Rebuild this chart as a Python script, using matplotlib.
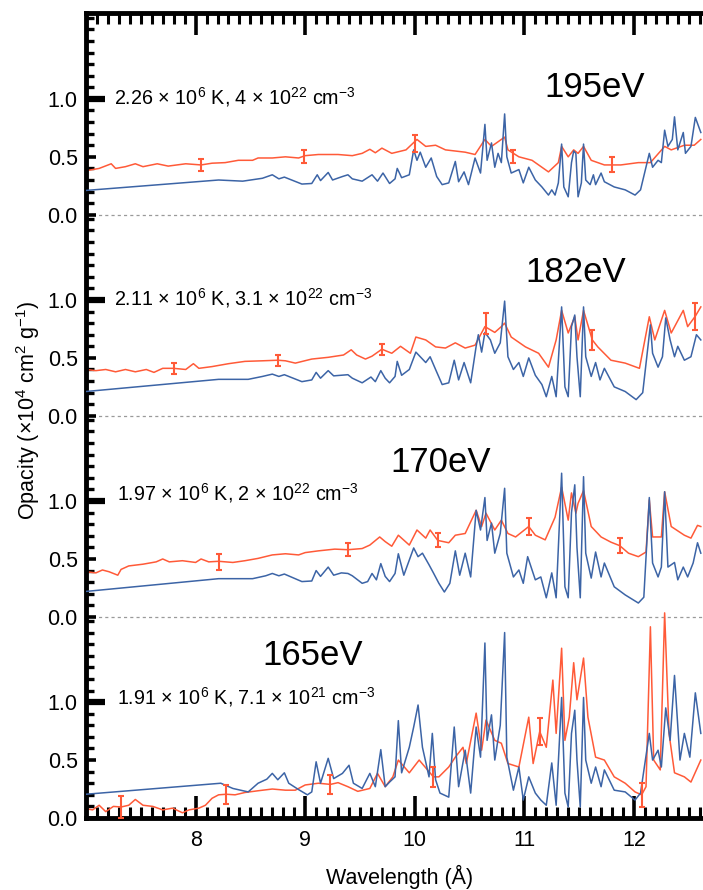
import matplotlib
matplotlib.use("Agg")
import matplotlib.pyplot as plt
from matplotlib import font_manager

# ---- measured opacity (red) and calculated opacity (blue), one block per panel ----
# 195 eV
blue195_wl = [7.00, 8.21, 8.43, 8.61, 8.70, 8.76, 8.81, 8.97, 9.06, 9.11, 9.14, 9.21, 9.25, 9.34, 9.39, 9.43,
              9.52, 9.61, 9.66, 9.71, 9.77, 9.82, 9.84, 9.88, 9.95, 9.99, 10.02, 10.05, 10.10, 10.15, 10.20,
              10.25, 10.31, 10.37, 10.40, 10.45, 10.49, 10.55, 10.60, 10.64, 10.66, 10.70, 10.73, 10.76, 10.79,
              10.82, 10.84, 10.88, 10.95, 10.99, 11.04, 11.10, 11.16, 11.22, 11.25, 11.28, 11.31, 11.34, 11.36,
              11.40, 11.43, 11.45, 11.47, 11.49, 11.52, 11.54, 11.56, 11.60, 11.63, 11.65, 11.70, 11.73, 11.82,
              11.92, 12.01, 12.06, 12.14, 12.17, 12.22, 12.25, 12.28, 12.31, 12.35, 12.37, 12.40, 12.45, 12.47,
              12.52, 12.56, 12.61]
blue195_op = [0.21, 0.30, 0.29, 0.315, 0.345, 0.31, 0.325, 0.265, 0.27, 0.345, 0.295, 0.365, 0.30, 0.33, 0.345, 0.31,
              0.29, 0.345, 0.29, 0.36, 0.27, 0.31, 0.40, 0.32, 0.345, 0.56, 0.47, 0.54, 0.41, 0.49, 0.33,
              0.26, 0.275, 0.46, 0.285, 0.37, 0.26, 0.49, 0.36, 0.78, 0.47, 0.62, 0.41, 0.53, 0.45,
              0.87, 0.50, 0.36, 0.39, 0.275, 0.41, 0.30, 0.24, 0.17, 0.215, 0.17, 0.275, 0.61, 0.24,
              0.155, 0.45, 0.55, 0.53, 0.155, 0.275, 0.61, 0.30, 0.26, 0.345, 0.26, 0.36, 0.285, 0.24,
              0.215, 0.17, 0.215, 0.53, 0.41, 0.47, 0.45, 0.73, 0.59, 0.65, 0.845, 0.56, 0.71, 0.53,
              0.59, 0.84, 0.71]
red195_wl = [7.00, 7.12, 7.23, 7.27, 7.36, 7.45, 7.52, 7.65, 7.75, 7.91, 8.05, 8.15, 8.27, 8.39, 8.52, 8.57,
             8.70, 8.82, 8.94, 9.00, 9.12, 9.30, 9.43, 9.52, 9.59, 9.64, 9.70, 9.79, 9.92, 10.02, 10.10,
             10.19, 10.28, 10.46, 10.55, 10.64, 10.70, 10.82, 10.85, 10.95, 11.07, 11.22, 11.31, 11.34, 11.40,
             11.45, 11.49, 11.54, 11.61, 11.73, 11.88, 12.04, 12.15, 12.28, 12.34, 12.46, 12.55, 12.61]
red195_op = [0.38, 0.40, 0.44, 0.40, 0.415, 0.44, 0.415, 0.44, 0.42, 0.44, 0.43, 0.445, 0.45, 0.47, 0.47, 0.49,
             0.49, 0.50, 0.49, 0.51, 0.52, 0.52, 0.51, 0.53, 0.565, 0.535, 0.575, 0.53, 0.56, 0.65, 0.59,
             0.60, 0.56, 0.54, 0.52, 0.65, 0.59, 0.67, 0.56, 0.50, 0.47, 0.37, 0.45, 0.59, 0.50,
             0.56, 0.53, 0.59, 0.47, 0.43, 0.43, 0.45, 0.45, 0.59, 0.56, 0.60, 0.60, 0.65]
err195_wl = [8.05, 8.99, 10.00, 10.90, 11.80]
err195_op = [0.43, 0.50, 0.615, 0.505, 0.435]
err195_sd = [0.05, 0.055, 0.075, 0.055, 0.065]

# 182 eV
blue182_wl = [7.00, 8.21, 8.48, 8.61, 8.70, 8.76, 8.81, 8.97, 9.06, 9.10, 9.14, 9.21, 9.26, 9.39, 9.43, 9.52,
              9.60, 9.64, 9.69, 9.73, 9.77, 9.82, 9.84, 9.88, 9.95, 10.01, 10.05, 10.10, 10.14, 10.19, 10.25,
              10.31, 10.36, 10.40, 10.45, 10.51, 10.56, 10.58, 10.61, 10.64, 10.69, 10.73, 10.78, 10.82, 10.85,
              10.90, 10.95, 10.99, 11.04, 11.10, 11.16, 11.20, 11.25, 11.29, 11.34, 11.37, 11.40, 11.43, 11.46,
              11.48, 11.51, 11.54, 11.56, 11.61, 11.65, 11.69, 11.73, 11.82, 11.92, 12.02, 12.08, 12.15, 12.17,
              12.22, 12.26, 12.29, 12.33, 12.37, 12.40, 12.46, 12.52, 12.57, 12.61]
blue182_op = [0.21, 0.315, 0.315, 0.34, 0.36, 0.34, 0.355, 0.295, 0.31, 0.375, 0.325, 0.39, 0.345, 0.355, 0.325, 0.285,
              0.335, 0.295, 0.39, 0.325, 0.285, 0.34, 0.47, 0.35, 0.40, 0.55, 0.51, 0.46, 0.51, 0.40, 0.27,
              0.285, 0.48, 0.31, 0.46, 0.285, 0.60, 0.70, 0.55, 0.72, 0.655, 0.54, 0.63, 0.99, 0.51,
              0.40, 0.46, 0.34, 0.50, 0.35, 0.27, 0.165, 0.34, 0.165, 0.94, 0.25, 0.165, 0.77, 0.87,
              0.51, 0.165, 0.94, 0.51, 0.34, 0.46, 0.31, 0.41, 0.25, 0.21, 0.14, 0.20, 0.785, 0.54,
              0.42, 0.51, 0.845, 0.655, 0.51, 0.60, 0.48, 0.51, 0.70, 0.655]
red182_wl = [7.00, 7.09, 7.18, 7.27, 7.36, 7.45, 7.55, 7.62, 7.70, 7.80, 7.91, 7.98, 8.03, 8.15, 8.30, 8.45,
             8.61, 8.75, 8.82, 8.91, 9.06, 9.21, 9.35, 9.42, 9.47, 9.55, 9.61, 9.70, 9.79, 9.87, 9.96,
             10.01, 10.10, 10.19, 10.28, 10.37, 10.46, 10.55, 10.64, 10.73, 10.79, 10.82, 10.88, 11.01, 11.13,
             11.22, 11.29, 11.34, 11.40, 11.46, 11.49, 11.54, 11.62, 11.67, 11.79, 11.92, 12.05, 12.14, 12.19,
             12.28, 12.34, 12.45, 12.49, 12.56, 12.61]
red182_op = [0.40, 0.39, 0.40, 0.38, 0.40, 0.38, 0.40, 0.375, 0.41, 0.41, 0.40, 0.45, 0.41, 0.425, 0.45, 0.47,
             0.475, 0.48, 0.475, 0.455, 0.49, 0.505, 0.525, 0.57, 0.525, 0.49, 0.515, 0.575, 0.54, 0.60, 0.54,
             0.68, 0.655, 0.595, 0.585, 0.63, 0.585, 0.61, 0.77, 0.72, 0.77, 0.80, 0.68, 0.595, 0.54,
             0.42, 0.655, 0.91, 0.715, 0.855, 0.655, 0.91, 0.655, 0.595, 0.48, 0.455, 0.41, 0.855, 0.655,
             0.91, 0.715, 0.91, 0.77, 0.86, 0.94]
err182_wl = [7.80, 8.75, 9.70, 10.65, 11.62, 12.56]
err182_op = [0.41, 0.48, 0.575, 0.80, 0.655, 0.86]
err182_sd = [0.05, 0.047, 0.048, 0.09, 0.085, 0.115]

# 170 eV
blue170_wl = [7.00, 8.21, 8.52, 8.64, 8.70, 8.76, 8.81, 8.97, 9.06, 9.10, 9.14, 9.21, 9.26, 9.33, 9.39, 9.43,
              9.52, 9.57, 9.61, 9.65, 9.69, 9.73, 9.77, 9.82, 9.85, 9.90, 9.99, 10.03, 10.07, 10.13, 10.17,
              10.22, 10.27, 10.32, 10.37, 10.41, 10.46, 10.51, 10.56, 10.60, 10.64, 10.66, 10.70, 10.73, 10.78,
              10.82, 10.84, 10.90, 10.95, 10.99, 11.03, 11.10, 11.15, 11.20, 11.25, 11.29, 11.34, 11.37, 11.40,
              11.43, 11.46, 11.48, 11.51, 11.54, 11.56, 11.61, 11.65, 11.70, 11.73, 11.82, 11.92, 12.04, 12.09,
              12.14, 12.17, 12.22, 12.25, 12.28, 12.31, 12.37, 12.40, 12.45, 12.49, 12.54, 12.58, 12.61]
blue170_op = [0.22, 0.33, 0.33, 0.355, 0.375, 0.355, 0.37, 0.305, 0.31, 0.40, 0.35, 0.43, 0.36, 0.38, 0.375, 0.355,
              0.29, 0.305, 0.375, 0.32, 0.46, 0.35, 0.305, 0.375, 0.545, 0.36, 0.595, 0.52, 0.55, 0.45, 0.38,
              0.29, 0.215, 0.29, 0.57, 0.36, 0.55, 0.345, 0.92, 0.75, 1.03, 0.66, 0.81, 0.55, 0.72,
              1.11, 0.55, 0.345, 0.405, 0.29, 0.52, 0.32, 0.345, 0.165, 0.38, 0.165, 1.24, 0.26, 0.165,
              0.90, 1.14, 0.60, 0.165, 1.21, 0.55, 0.335, 0.56, 0.345, 0.465, 0.26, 0.19, 0.12, 0.17,
              1.03, 0.465, 0.345, 0.43, 1.08, 0.43, 0.47, 0.32, 0.43, 0.345, 0.465, 0.64, 0.55]
red170_wl = [7.00, 7.09, 7.15, 7.21, 7.29, 7.32, 7.39, 7.52, 7.64, 7.70, 7.76, 7.88, 8.00, 8.05, 8.12, 8.21,
             8.34, 8.45, 8.57, 8.70, 8.82, 8.94, 9.00, 9.12, 9.27, 9.39, 9.52, 9.59, 9.68, 9.73, 9.79,
             9.85, 9.95, 10.02, 10.10, 10.14, 10.21, 10.31, 10.37, 10.46, 10.56, 10.61, 10.65, 10.73, 10.79,
             10.85, 10.92, 11.04, 11.10, 11.19, 11.28, 11.34, 11.40, 11.43, 11.47, 11.49, 11.54, 11.61, 11.70,
             11.79, 11.87, 11.95, 12.04, 12.11, 12.14, 12.17, 12.25, 12.28, 12.34, 12.46, 12.52, 12.58, 12.61]
red170_op = [0.39, 0.38, 0.405, 0.39, 0.36, 0.41, 0.44, 0.455, 0.475, 0.50, 0.475, 0.485, 0.47, 0.50, 0.475, 0.48,
             0.47, 0.485, 0.505, 0.535, 0.545, 0.535, 0.555, 0.57, 0.585, 0.58, 0.59, 0.62, 0.69, 0.65, 0.61,
             0.705, 0.62, 0.75, 0.68, 0.75, 0.66, 0.64, 0.705, 0.72, 0.92, 0.78, 0.895, 0.75, 0.835,
             0.72, 0.69, 0.78, 0.705, 0.665, 0.86, 1.12, 0.835, 1.07, 0.895, 0.98, 1.09, 0.78, 0.69,
             0.645, 0.615, 0.55, 0.52, 0.56, 1.01, 0.69, 0.69, 1.08, 0.78, 0.705, 0.68, 0.79, 0.78]
err170_wl = [8.21, 9.39, 10.21, 11.04, 11.87]
err170_op = [0.475, 0.58, 0.66, 0.78, 0.615]
err170_sd = [0.07, 0.058, 0.06, 0.07, 0.065]

# 165 eV
blue165_wl = [7.00, 8.23, 8.34, 8.48, 8.57, 8.65, 8.70, 8.75, 8.81, 8.85, 8.94, 9.02, 9.06, 9.10, 9.14, 9.21,
              9.26, 9.34, 9.40, 9.44, 9.52, 9.59, 9.64, 9.69, 9.73, 9.77, 9.82, 9.85, 9.88, 9.95, 9.99,
              10.03, 10.07, 10.13, 10.16, 10.19, 10.23, 10.31, 10.36, 10.40, 10.46, 10.51, 10.56, 10.60, 10.64,
              10.66, 10.70, 10.73, 10.78, 10.82, 10.84, 10.90, 10.95, 10.99, 11.04, 11.10, 11.15, 11.20, 11.25,
              11.29, 11.34, 11.37, 11.40, 11.43, 11.46, 11.48, 11.51, 11.54, 11.56, 11.61, 11.65, 11.70, 11.73,
              11.82, 11.92, 12.01, 12.06, 12.14, 12.17, 12.22, 12.25, 12.29, 12.33, 12.37, 12.42, 12.46, 12.51,
              12.56, 12.61]
blue165_op = [0.205, 0.30, 0.255, 0.225, 0.30, 0.335, 0.385, 0.33, 0.39, 0.30, 0.245, 0.20, 0.225, 0.485, 0.30, 0.515,
              0.34, 0.385, 0.455, 0.30, 0.255, 0.385, 0.27, 0.59, 0.27, 0.31, 0.355, 0.84, 0.39, 0.61, 0.785,
              0.975, 0.61, 0.355, 0.73, 0.33, 0.215, 0.18, 0.785, 0.27, 0.585, 0.215, 0.785, 0.525, 1.51,
              0.67, 0.89, 0.50, 0.80, 1.60, 0.525, 0.24, 0.44, 0.155, 0.355, 0.215, 0.155, 0.11, 0.475,
              0.11, 1.04, 0.215, 0.095, 0.73, 0.93, 0.50, 0.095, 1.04, 0.50, 0.30, 0.44, 0.27, 0.415,
              0.24, 0.225, 0.155, 0.215, 0.73, 0.50, 0.585, 0.44, 0.95, 0.67, 1.23, 0.50, 0.73, 0.525,
              1.08, 0.73]
red165_wl = [7.00, 7.06, 7.12, 7.18, 7.25, 7.32, 7.39, 7.45, 7.52, 7.61, 7.70, 7.79, 7.88, 7.94, 8.03, 8.09,
             8.15, 8.21, 8.28, 8.36, 8.45, 8.57, 8.70, 8.82, 8.91, 9.00, 9.12, 9.23, 9.30, 9.39, 9.48,
             9.59, 9.66, 9.73, 9.80, 9.85, 9.95, 10.04, 10.17, 10.22, 10.31, 10.37, 10.44, 10.47, 10.56,
             10.61, 10.65, 10.73, 10.79, 10.85, 10.95, 11.04, 11.08, 11.14, 11.20, 11.26, 11.29, 11.34, 11.37,
             11.41, 11.45, 11.48, 11.54, 11.58, 11.65, 11.73, 11.82, 11.92, 12.01, 12.07, 12.11, 12.15, 12.18,
             12.24, 12.28, 12.32, 12.37, 12.46, 12.52, 12.61]
red165_op = [0.08, 0.07, 0.11, 0.055, 0.10, 0.095, 0.11, 0.16, 0.11, 0.10, 0.07, 0.085, 0.045, 0.07, 0.085, 0.11,
             0.17, 0.20, 0.205, 0.20, 0.22, 0.235, 0.25, 0.24, 0.24, 0.285, 0.30, 0.29, 0.305, 0.27, 0.23,
             0.255, 0.385, 0.27, 0.355, 0.50, 0.39, 0.50, 0.355, 0.355, 0.44, 0.525, 0.61, 0.47, 0.905,
             0.585, 0.845, 0.67, 0.645, 0.47, 0.44, 0.87, 0.47, 0.745, 0.61, 1.19, 0.73, 1.465, 0.67,
             0.87, 1.34, 1.02, 1.38, 0.87, 0.525, 0.50, 0.355, 0.30, 0.225, 0.20, 0.27, 1.65, 0.50,
             0.415, 1.77, 0.73, 0.39, 0.355, 0.31, 0.50]
err165_wl = [7.32, 8.28, 9.23, 10.17, 11.14, 12.07]
err165_op = [0.095, 0.205, 0.29, 0.355, 0.745, 0.20]
err165_sd = [0.095, 0.08, 0.08, 0.085, 0.115, 0.105]

energies = ["195eV", "182eV", "170eV", "165eV"]
conditions = [r"2.26 × 10$^{6}$ K, 4 × 10$^{22}$ cm$^{-3}$",
              r"2.11 × 10$^{6}$ K, 3.1 × 10$^{22}$ cm$^{-3}$",
              r"1.97 × 10$^{6}$ K, 2 × 10$^{22}$ cm$^{-3}$",
              r"1.91 × 10$^{6}$ K, 7.1 × 10$^{21}$ cm$^{-3}$"]

# ---- fonts ----
names = {f.name for f in font_manager.fontManager.ttflist}
narrow = "Liberation Sans Narrow" if "Liberation Sans Narrow" in names else "Liberation Sans"
plt.rcParams["font.family"] = [narrow, "DejaVu Sans"]
plt.rcParams["mathtext.fontset"] = "custom"
plt.rcParams["mathtext.rm"] = narrow
plt.rcParams["mathtext.it"] = narrow
plt.rcParams["mathtext.bf"] = narrow

BLUE = "#3c64a6"
RED = "#ff5a38"
H = 1.735          # height of one stacked panel in opacity units
TOP = 3 * H + 1.741

fig = plt.figure(figsize=(7.03, 8.90), dpi=100)
ax = fig.add_axes([86 / 703, 72 / 890, 1 - 86 / 703, 805 / 890])

panels = [
    (3 * H, blue195_wl, blue195_op, red195_wl, red195_op, err195_wl, err195_op, err195_sd),
    (2 * H, blue182_wl, blue182_op, red182_wl, red182_op, err182_wl, err182_op, err182_sd),
    (1 * H, blue170_wl, blue170_op, red170_wl, red170_op, err170_wl, err170_op, err170_sd),
    (0.0, blue165_wl, blue165_op, red165_wl, red165_op, err165_wl, err165_op, err165_sd),
]
for off, bw, bo, rw, ro, ew, eo, es in panels:
    ax.plot(bw, [v + off for v in bo], color=BLUE, lw=1.1, zorder=3)
    ax.plot(rw, [v + off for v in ro], color=RED, lw=1.1, zorder=2)
    ax.errorbar(ew, [v + off for v in eo], yerr=es, fmt="none", ecolor=RED,
                elinewidth=1.5, capsize=2.5, capthick=1.5, zorder=4)
    if off > 0:
        ax.axhline(off, color="#9a9a9a", lw=0.9, ls=(0, (2.5, 2.5)), zorder=1)

# panel labels
cond_pos = [(7.26, 1.02), (7.26, 1.02), (7.28, 1.07), (7.28, 1.04)]
energy_pos = [(11.64, 1.095), (11.47, 1.24), (10.24, 1.33), (9.07, 1.405)]
for i, (off, *_) in enumerate(panels):
    cx, cy = cond_pos[i]
    ax.text(cx, off + cy, conditions[i], fontsize=14.2, ha="left", va="center")
    ex, ey = energy_pos[i]
    ax.text(ex, off + ey, energies[i], fontsize=25, ha="center", va="center",
            family="Liberation Sans")

ax.set_xlim(7.0, 12.63)
ax.set_ylim(0, TOP)

# y ticks repeat 0.0 / 0.5 / 1.0 for each panel
offsets = [0.0, H, 2 * H, 3 * H]
major = [o + v for o in offsets for v in (0.0, 0.5, 1.0)]
ax.set_yticks(major)
ax.set_yticklabels(["0.0", "0.5", "1.0"] * 4)
minor = [o + k * 0.1 for o in offsets for k in range(1, 18)
         if k not in (5, 10) and o + k * 0.1 < min(o + H - 0.03, TOP)]
ax.set_yticks(minor, minor=True)

ax.set_xticks([8, 9, 10, 11, 12])
ax.set_xticks([7.0 + k * 0.1 for k in range(1, 57)], minor=True)

ax.tick_params(axis="both", which="both", direction="in", colors="black", labelsize=15.5)
ax.tick_params(axis="x", which="both", top=True, bottom=True, pad=9)
ax.tick_params(axis="x", which="major", length=16, width=2.6)
ax.tick_params(axis="x", which="minor", length=8, width=2.2)
ax.tick_params(axis="y", which="major", length=7, width=2.6, pad=6, right=False)
ax.tick_params(axis="y", which="minor", length=6, width=2.4, right=False)

# the 1.0 tick of every panel is drawn longer
for tick, val in zip(ax.yaxis.get_major_ticks(), ["0.0", "0.5", "1.0"] * 4):
    if val == "1.0":
        tick.tick1line.set_markersize(14)
        tick.tick1line.set_markeredgewidth(4.5)

for side in ("left", "top", "bottom"):
    ax.spines[side].set_linewidth(3.5)
ax.spines["right"].set_visible(False)

fig.text(400 / 703, 1 - 877 / 890, "Wavelength (Å)", ha="center", va="center", fontsize=15.5)
fig.text(28 / 703, 1 - 410 / 890, r"Opacity (×10$^{4}$ cm$^{2}$ g$^{-1}$)", ha="center", va="center",
         rotation=90, fontsize=15.5)

fig.savefig("out.png", dpi=100)
